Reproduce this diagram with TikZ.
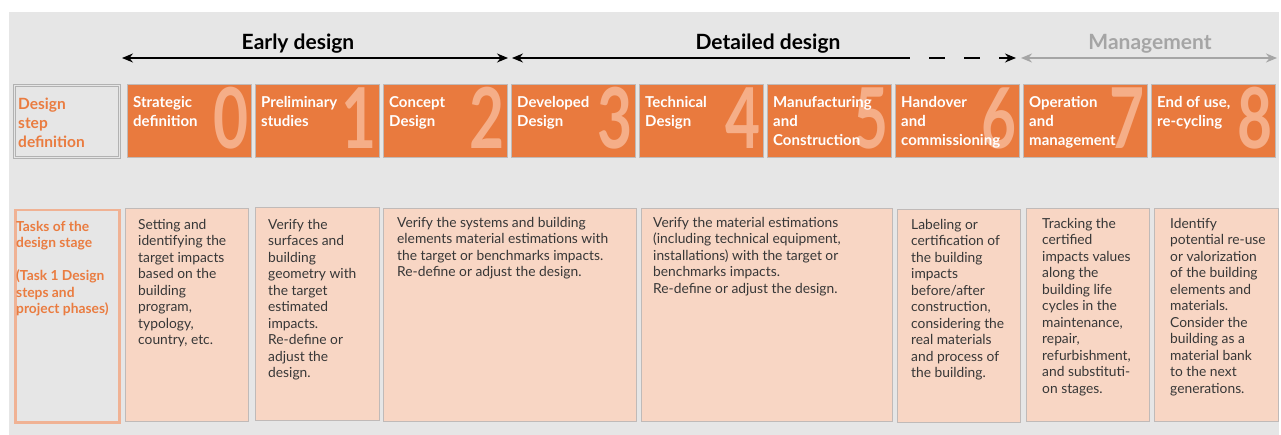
\documentclass[tikz,border=0pt]{standalone}
\usepackage{fontspec}
\setmainfont{Lato}
\usetikzlibrary{positioning}
\usetikzlibrary{arrows.meta}
\definecolor{bggray}{RGB}{230,230,230}
\definecolor{steporange}{RGB}{233,122,62}
\definecolor{digitorange}{RGB}{245,174,136}
\definecolor{taskpeach}{RGB}{248,214,196}
\definecolor{boxline}{RGB}{192,186,184}
\definecolor{salmonline}{RGB}{240,178,148}
\definecolor{labelorange}{RGB}{234,124,64}
\definecolor{textgray}{RGB}{55,55,55}
\definecolor{mgmtgray}{RGB}{165,165,165}
\tikzset{
	stepbox/.style={draw=boxline, fill=steporange, minimum width=124pt, minimum height=73pt, anchor=north west, inner sep=0},
	steptext/.style={anchor=north west, inner sep=0, text=white, font=\fontsize{15}{19}\selectfont\bfseries, align=left},
	stepnum/.style={anchor=base east, inner sep=0, text=digitorange, font=\fontsize{84}{84}\selectfont\bfseries},
	taskbox/.style={draw=boxline, fill=taskpeach, minimum height=213pt, anchor=north west, inner sep=0},
	tasktext/.style={anchor=north west, inner sep=0, text=textgray, font=\fontsize{13.8}{16.5}\selectfont, align=left},
	rowlabel/.style={anchor=north west, inner sep=0, text=labelorange, align=left},
	phase/.style={font=\fontsize{21}{21}\selectfont\bfseries},
}
\newcommand{\stepdigit}[1]{\scalebox{0.72}[1]{#1}}

\begin{document}
\begin{tikzpicture}[x=1pt, y=-1pt, >={Stealth[length=11pt, width=9pt]}]
		\useasboundingbox (0,0) rectangle (1281,435);
		\fill[white] (0,0) rectangle (1281,435);
		\fill[bggray] (9,12) rectangle (1279,435);
		
		% phases
		\node[phase] (early) at (298,44) {Early design};
		\node[phase] (detailed) at (768,44) {Detailed design};
		\node[phase, text=mgmtgray] (mgmt) at (1150,44) {Management};
		
		\coordinate (e0) at (122,58);
		\coordinate (e1) at (508,58);
		\coordinate (d0) at (512,58);
		\coordinate (d1) at (910,58);
		\coordinate (d2) at (1016,58);
		\coordinate (m0) at (1021,58);
		\coordinate (m1) at (1277,58);
		
		\draw[line width=1.2pt, <->] (e0) -- (e1);
		\draw[line width=1.2pt, <-] (d0) -- (d1);
		\draw[line width=1.2pt, dash pattern=on 16pt off 19pt, dash phase=16pt, ->] (d1) -- (d2);
		\draw[line width=2pt, mgmtgray, <->] (m0) -- (m1);
		
		% design steps
		\node[draw=black!30, line width=0.7pt, double=bggray, double distance=1.6pt, minimum width=105pt, minimum height=72pt, anchor=north west, inner sep=0] (stepdef) at (14,85) {};
		\node[rowlabel, font=\fontsize{15.5}{19}\selectfont\bfseries] (stepdeft) at ([shift={(4pt,-13pt)}]stepdef.north west) {Design\\step\\definition};
		
		\node[stepbox] (s0) at (127,84) {};
		\node[stepbox] (s1) at (255,84) {};
		\node[stepbox] (s2) at (383,84) {};
		\node[stepbox] (s3) at (511,84) {};
		\node[stepbox] (s4) at (639,84) {};
		\node[stepbox] (s5) at (767,84) {};
		\node[stepbox] (s6) at (895,84) {};
		\node[stepbox] (s7) at (1023,84) {};
		\node[stepbox] (s8) at (1151,84) {};
		
		\node[stepnum] (n0) at ([shift={(-3pt,9pt)}]s0.south east) {\stepdigit{0}};
		\node[stepnum] (n1) at ([shift={(-3pt,9pt)}]s1.south east) {\stepdigit{1}};
		\node[stepnum] (n2) at ([shift={(-3pt,9pt)}]s2.south east) {\stepdigit{2}};
		\node[stepnum] (n3) at ([shift={(-3pt,9pt)}]s3.south east) {\stepdigit{3}};
		\node[stepnum] (n4) at ([shift={(-3pt,9pt)}]s4.south east) {\stepdigit{4}};
		\node[stepnum] (n5) at ([shift={(-3pt,9pt)}]s5.south east) {\stepdigit{5}};
		\node[stepnum] (n6) at ([shift={(-3pt,9pt)}]s6.south east) {\stepdigit{6}};
		\node[stepnum] (n7) at ([shift={(-3pt,9pt)}]s7.south east) {\stepdigit{7}};
		\node[stepnum] (n8) at ([shift={(-3pt,9pt)}]s8.south east) {\stepdigit{8}};
		
		\node[steptext] (s0t) at ([shift={(6pt,-12pt)}]s0.north west) {Strategic\\definition};
		\node[steptext] (s1t) at ([shift={(6pt,-12pt)}]s1.north west) {Preliminary\\studies};
		\node[steptext] (s2t) at ([shift={(6pt,-12pt)}]s2.north west) {Concept\\Design};
		\node[steptext] (s3t) at ([shift={(6pt,-12pt)}]s3.north west) {Developed\\Design};
		\node[steptext] (s4t) at ([shift={(6pt,-12pt)}]s4.north west) {Technical\\Design};
		\node[steptext] (s5t) at ([shift={(6pt,-12pt)}]s5.north west) {Manufacturing\\and\\Construction};
		\node[steptext] (s6t) at ([shift={(6pt,-12pt)}]s6.north west) {Handover\\and\\commissioning};
		\node[steptext] (s7t) at ([shift={(6pt,-12pt)}]s7.north west) {Operation\\and\\management};
		\node[steptext] (s8t) at ([shift={(6pt,-12pt)}]s8.north west) {End of use,\\re-cycling};
		
		% tasks
		\node[draw=salmonline, line width=2.5pt, minimum width=104pt, minimum height=212pt, anchor=north west, inner sep=0] (taskdef) at (14,209) {};
		\node[rowlabel, font=\fontsize{13.8}{16.5}\selectfont\bfseries] (taskdeft) at ([shift={(2pt,-12pt)}]taskdef.north west) {Tasks of the\\design stage\\[16.5pt](Task 1 Design\\steps and\\project phases)};
		
		\node[taskbox, minimum width=123pt] (t0) at (125,208) {};
		\node[taskbox, minimum width=124pt] (t1) at (255,207) {};
		\node[taskbox, minimum width=253pt] (t23) at (383,208) {};
		\node[taskbox, minimum width=251pt] (t45) at (641,208) {};
		\node[taskbox, minimum width=123pt] (t6) at (897,209) {};
		\node[taskbox, minimum width=123pt] (t7) at (1026,208) {};
		\node[taskbox, minimum width=124pt] (t8) at (1154,208) {};
		
		\node[tasktext] (t0t) at ([shift={(13pt,-11pt)}]t0.north west) {Setting and\\identifying the\\target impacts\\based on the\\building\\program,\\typology,\\country, etc.};
		\node[tasktext] (t1t) at ([shift={(13pt,-12pt)}]t1.north west) {Verify the\\surfaces and\\building\\geometry with\\the target\\estimated\\impacts.\\Re-define or\\adjust the\\design.};
		\node[tasktext] (t23t) at ([shift={(14pt,-9pt)}]t23.north west) {Verify the systems and building\\elements material estimations with\\the target or benchmarks impacts.\\Re-define or adjust the design.};
		\node[tasktext] (t45t) at ([shift={(12pt,-9pt)}]t45.north west) {Verify the material estimations\\(including technical equipment,\\installations) with the target or\\benchmarks impacts.\\Re-define or adjust the design.};
		\node[tasktext] (t6t) at ([shift={(14pt,-10pt)}]t6.north west) {Labeling or\\certification of\\the building\\impacts\\before/after\\construction,\\considering the\\real materials\\and process of\\the building.};
		\node[tasktext] (t7t) at ([shift={(16pt,-10pt)}]t7.north west) {Tracking the\\certified\\impacts values\\along the\\building life\\cycles in the\\maintenance,\\repair,\\refurbishment,\\and substituti-\\on stages.};
		\node[tasktext] (t8t) at ([shift={(16pt,-10pt)}]t8.north west) {Identify\\potential re-use\\or valorization\\of the building\\elements and\\materials.\\Consider the\\building as a\\material bank\\to the next\\generations.};
	\end{tikzpicture}
\end{document}
